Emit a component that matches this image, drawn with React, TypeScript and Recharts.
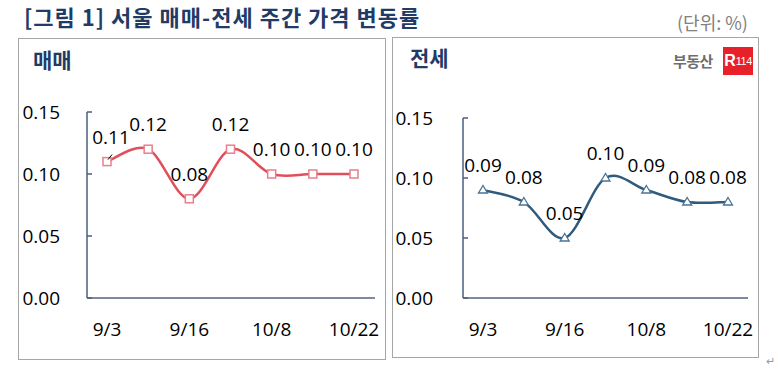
import React from 'react';
import { LineChart, Line, XAxis, YAxis } from 'recharts';

const weeks = ['9/3', '9/10', '9/16', '10/1', '10/8', '10/15', '10/22'];
const saleValues = [0.11, 0.12, 0.08, 0.12, 0.1, 0.1, 0.1];
const jeonseValues = [0.09, 0.08, 0.05, 0.1, 0.09, 0.08, 0.08];
const yTicks = [0, 0.05, 0.1, 0.15];

const FONT = '"Noto Sans CJK KR", "Noto Sans", sans-serif';
const NUM_FONT = '"Open Sans", "Noto Sans", sans-serif';
const TITLE_COLOR = '#1f3b66';
const RED = '#e0505c';
const BLUE = '#2e5b7e';

const saleData = weeks.map((w, i) => ({ week: w, value: saleValues[i] }));
const jeonseData = weeks.map((w, i) => ({ week: w, value: jeonseValues[i] }));

const fmt = (v: number) => v.toFixed(2);

// Excel-like smoothed line (uniform Catmull-Rom as cubic beziers)
function smoothCurve(context: any) {
  let pts: [number, number][] = [];
  return {
    areaStart() {},
    areaEnd() {},
    lineStart() {
      pts = [];
    },
    point(x: number, y: number) {
      pts.push([+x, +y]);
    },
    lineEnd() {
      if (!pts.length) return;
      context.moveTo(pts[0][0], pts[0][1]);
      for (let i = 0; i < pts.length - 1; i++) {
        const p0 = pts[i - 1] || pts[i];
        const p1 = pts[i];
        const p2 = pts[i + 1];
        const p3 = pts[i + 2] || p2;
        context.bezierCurveTo(
          p1[0] + (p2[0] - p0[0]) / 6,
          p1[1] + (p2[1] - p0[1]) / 6,
          p2[0] - (p3[0] - p1[0]) / 6,
          p2[1] - (p3[1] - p1[1]) / 6,
          p2[0],
          p2[1]
        );
      }
    },
  };
}

function SquareDot(props: any) {
  const { cx, cy, index } = props;
  if (cx == null || cy == null) return null;
  return (
    <rect key={index} x={cx - 4} y={cy - 4} width={8} height={8} fill="#fff" stroke="#e8808c" strokeWidth={1.5} />
  );
}

function TriangleDot(props: any) {
  const { cx, cy, index } = props;
  if (cx == null || cy == null) return null;
  return (
    <path
      key={index}
      d={`M${cx},${cy - 4.5} L${cx + 4.5},${cy + 3} L${cx - 4.5},${cy + 3} Z`}
      fill="#fff"
      stroke="#4a7394"
      strokeWidth={1.3}
    />
  );
}

function makeLabel(shiftFirst: boolean) {
  return (props: any) => {
    const { x, y, value, index } = props;
    const dx = shiftFirst && index === 0 ? 4 : 0;
    return (
      <g key={index}>
        {shiftFirst && index === 0 && (
          <line x1={x + 1} y1={y - 2} x2={x + 5} y2={y - 7} stroke="#000" strokeWidth={1} />
        )}
        <text
          x={x + dx}
          y={y - 18}
          textAnchor="middle"
          fontSize={19}
          fontFamily={NUM_FONT}
          fill="#000"
        >
          {fmt(Number(value))}
        </text>
      </g>
    );
  };
}

interface PanelProps {
  data: { week: string; value: number }[];
  color: string;
  dot: (p: any) => React.ReactNode;
  width: number;
  height: number;
  margin: { top: number; right: number; bottom: number; left: number };
  yTickMargin: number;
  pad: { left: number; right: number };
  shiftFirst: boolean;
}

function Panel({ data, color, dot, width, height, margin, yTickMargin, pad, shiftFirst }: PanelProps) {
  return (
    <LineChart width={width} height={height} data={data} margin={margin}>
      <XAxis
        dataKey="week"
        interval={1}
        padding={pad}
        tickLine={false}
        tickSize={0}
        tickMargin={25}
        height={30}
        axisLine={{ stroke: '#7f8aa0', strokeWidth: 2 }}
        tick={{ fill: '#000', fontSize: 19, fontFamily: NUM_FONT }}
      />
      <YAxis
        domain={[0, 0.15]}
        ticks={yTicks}
        tickFormatter={fmt}
        width={60}
        tickSize={-5}
        tickMargin={yTickMargin}
        axisLine={{ stroke: '#4a5f80', strokeWidth: 1.5 }}
        tickLine={{ stroke: '#4a5f80', strokeWidth: 1.5 }}
        tick={{ fill: '#000', fontSize: 19, fontFamily: NUM_FONT }}
      />
      <Line
        type={smoothCurve as any}
        dataKey="value"
        stroke={color}
        strokeWidth={2.5}
        dot={dot}
        activeDot={false}
        label={makeLabel(shiftFirst)}
        isAnimationActive={false}
      />
    </LineChart>
  );
}

export default function App() {
  return (
    <div style={{ position: 'relative', width: 778, height: 369, background: '#fff', fontFamily: FONT }}>
      <style>{'body{margin:0}'}</style>
      <div
        style={{
          position: 'absolute',
          left: 24,
          top: 0,
          fontSize: 22,
          lineHeight: '33px',
          fontWeight: 700,
          letterSpacing: 1,
          color: TITLE_COLOR,
          whiteSpace: 'nowrap',
        }}
      >
        [그림 1] 서울 매매-전세 주간 가격 변동률
      </div>
      <div style={{ position: 'absolute', left: 677, top: 9, fontSize: 18, color: '#808080', whiteSpace: 'nowrap' }}>
        (단위: %)
      </div>

      <div
        style={{
          position: 'absolute',
          left: 18,
          top: 38,
          width: 368,
          height: 322,
          border: '1px solid #a6a6a6',
          boxSizing: 'border-box',
        }}
      >
        <div style={{ position: 'absolute', left: 14, top: 5, fontSize: 21, fontWeight: 700, color: TITLE_COLOR }}>
          매매
        </div>
        <Panel
          data={saleData}
          color={RED}
          dot={SquareDot}
          width={366}
          height={320}
          margin={{ top: 73, right: 10, bottom: 31, left: 8 }}
          yTickMargin={32}
          pad={{ left: 20, right: 21 }}
          shiftFirst
        />
      </div>

      <div
        style={{
          position: 'absolute',
          left: 392,
          top: 37,
          width: 367,
          height: 321,
          border: '1px solid #a6a6a6',
          boxSizing: 'border-box',
        }}
      >
        <div style={{ position: 'absolute', left: 17, top: 4, fontSize: 21, fontWeight: 700, color: TITLE_COLOR }}>
          전세
        </div>
        <div
          style={{
            position: 'absolute',
            left: 280,
            top: 12,
            fontSize: 15,
            fontWeight: 700,
            color: '#6e6e6e',
            letterSpacing: -0.5,
          }}
        >
          부동산
        </div>
        <div
          style={{
            position: 'absolute',
            left: 330,
            top: 9,
            width: 30,
            height: 28,
            background: '#e8202a',
            color: '#fff',
            display: 'flex',
            alignItems: 'center',
            justifyContent: 'center',
            fontFamily: '"Liberation Sans", Arial, sans-serif',
          }}
        >
          <span style={{ fontSize: 16, fontWeight: 700 }}>R</span>
          <span style={{ fontSize: 11, letterSpacing: -0.5 }}>114</span>
        </div>
        <Panel
          data={jeonseData}
          color={BLUE}
          dot={TriangleDot}
          width={365}
          height={319}
          margin={{ top: 80, right: 10, bottom: 29, left: 10 }}
          yTickMargin={35}
          pad={{ left: 20, right: 20 }}
          shiftFirst={false}
        />
      </div>
      <div style={{ position: 'absolute', left: 766, top: 352, fontSize: 11, color: '#999' }}>↵</div>
    </div>
  );
}
